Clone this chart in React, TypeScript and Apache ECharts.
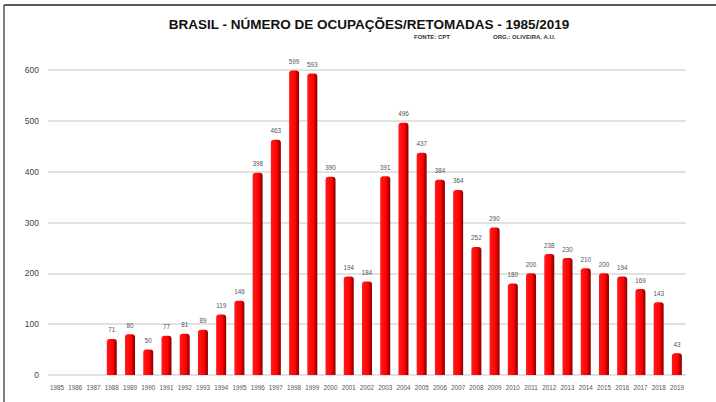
import React, { useEffect, useRef } from "react";
import * as echarts from "echarts";

const years: string[] = [
  "1985", "1986", "1987", "1988", "1989", "1990", "1991", "1992", "1993", "1994",
  "1995", "1996", "1997", "1998", "1999", "2000", "2001", "2002", "2003", "2004",
  "2005", "2006", "2007", "2008", "2009", "2010", "2011", "2012", "2013", "2014",
  "2015", "2016", "2017", "2018", "2019",
];
const ocupacoes: (number | null)[] = [
  null, null, null, 71, 80, 50, 77, 81, 89, 119,
  146, 398, 463, 599, 593, 390, 194, 184, 391, 496,
  437, 384, 364, 252, 290, 180, 200, 238, 230, 210,
  200, 194, 169, 143, 43,
];
const yTicks: number[] = [0, 100, 200, 300, 400, 500, 600];
const titleText = "BRASIL - NÚMERO DE OCUPAÇÕES/RETOMADAS - 1985/2019";
const sourceText = "FONTE: CPT";
const orgText = "ORG.: OLIVEIRA, A.U.";

export default function App() {
  const ref = useRef<HTMLDivElement>(null);
  useEffect(() => {
    document.body.style.margin = "0";
    const chart = echarts.init(ref.current!, null, { renderer: "svg" });
    const font = "Liberation Sans, Arial, sans-serif";
    chart.setOption({
      animation: false,
      backgroundColor: "#ffffff",
      title: [
        {
          text: titleText,
          left: 364,
          top: 12,
          textAlign: "center",
          textStyle: { fontFamily: font, fontSize: 13.5, fontWeight: "bold", color: "#111" },
        },
      ],
      graphic: [
        { type: "line", shape: { x1: 4, y1: 5, x2: 716, y2: 5 }, style: { stroke: "#222", lineWidth: 1.5 } },
        { type: "line", shape: { x1: 4, y1: 5, x2: 4, y2: 402 }, style: { stroke: "#555", lineWidth: 1.5 } },
        {
          type: "text",
          left: 414,
          top: 34,
          style: { text: sourceText, fontFamily: font, fontSize: 6, fontWeight: "bold", fill: "#333" },
        },
        {
          type: "text",
          left: 493,
          top: 34,
          style: { text: orgText, fontFamily: font, fontSize: 6, fontWeight: "bold", fill: "#333" },
        },
      ],
      grid: { left: 48, right: 30, top: 70, bottom: 27, containLabel: false },
      xAxis: {
        type: "category",
        data: years,
        axisLine: { show: false },
        axisTick: { show: false },
        axisLabel: { fontFamily: font, fontSize: 6.3, color: "#555", margin: 9, interval: 0 },
      },
      yAxis: {
        type: "value",
        min: yTicks[0],
        max: yTicks[yTicks.length - 1],
        interval: 100,
        axisLine: { show: false },
        axisTick: { show: false },
        axisLabel: { fontFamily: font, fontSize: 8.5, color: "#444", margin: 9 },
        splitLine: { lineStyle: { color: "#d9d9d9", width: 1.5 } },
      },
      series: [
        {
          type: "bar",
          data: ocupacoes,
          barWidth: 10,
          itemStyle: {
            color: new echarts.graphic.LinearGradient(0, 0, 1, 0, [
              { offset: 0, color: "#ff1a1a" },
              { offset: 0.65, color: "#ff0000" },
              { offset: 0.75, color: "#c80000" },
              { offset: 1, color: "#8a0000" },
            ]),
            borderRadius: [3, 3, 0, 0],
          },
          label: {
            show: true,
            position: "top",
            distance: 6,
            fontFamily: font,
            fontSize: 6.3,
            color: "#555",
          },
        },
      ],
    });
    return () => chart.dispose();
  }, []);
  return <div ref={ref} style={{ position: "absolute", left: 0, top: 0, width: 716, height: 402 }} />;
}
